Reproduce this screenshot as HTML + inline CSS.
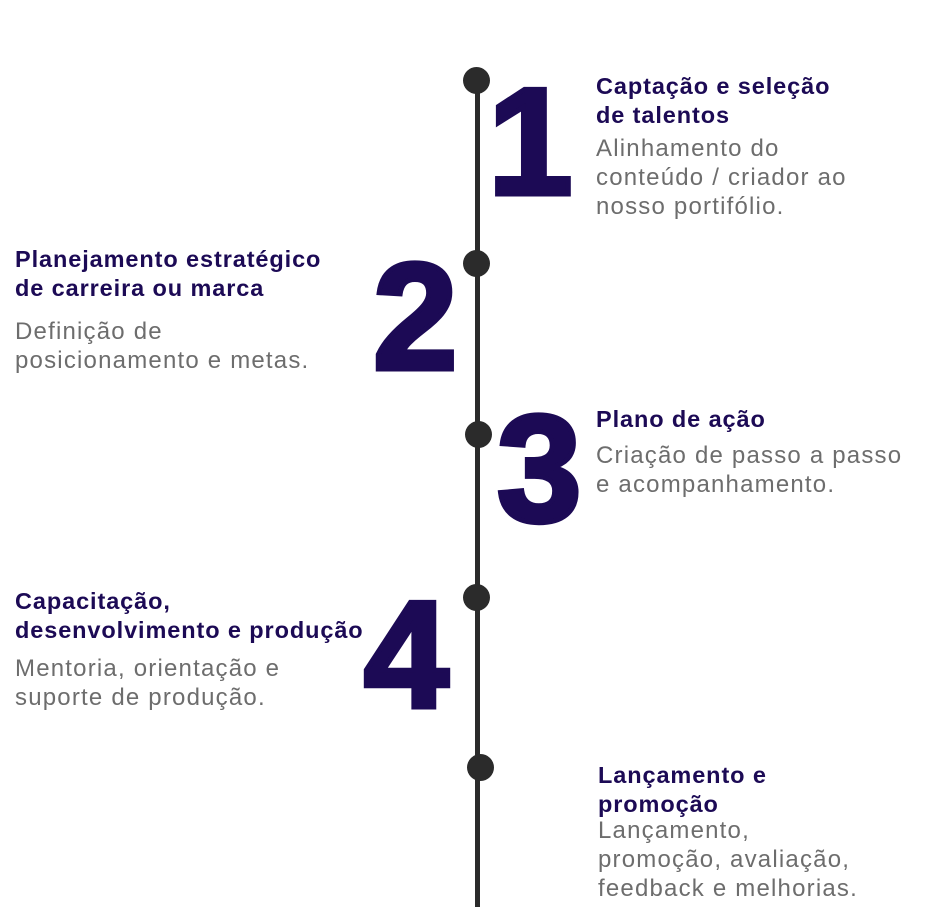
<!DOCTYPE html>
<html><head><meta charset="utf-8"><style>
body{margin:0;width:935px;height:917px;background:#fff;position:relative;overflow:hidden;font-family:"Liberation Sans",sans-serif}
.t{position:absolute;color:#1c0a55;font-weight:bold;font-size:23.5px;letter-spacing:0.9px;line-height:29px;white-space:nowrap}
.b{position:absolute;color:#6d6d6d;font-size:24px;letter-spacing:1.2px;line-height:29px;white-space:nowrap}
.n{position:absolute;color:#1c0a55;font-weight:bold;font-size:152px;line-height:1;-webkit-text-stroke:5px #1c0a55}
.d{position:absolute;width:27px;height:27px;border-radius:50%;background:#2b2b2b}
</style></head><body>
<div style="position:absolute;left:475px;top:80px;width:5px;height:827px;background:#2b2b2b"></div>
<div class="d" style="left:463px;top:67px"></div>
<div class="d" style="left:463px;top:250px"></div>
<div class="d" style="left:465px;top:421px"></div>
<div class="d" style="left:463px;top:584px"></div>
<div class="d" style="left:467px;top:754px"></div>

<div class="n" style="left:488px;top:66px">1</div>
<div class="n" style="left:373px;top:241px">2</div>
<div class="n" style="left:497px;top:393px">3</div>
<div class="n" style="left:364px;top:579px">4</div>

<div class="t" style="left:596px;top:72px">Captação e seleção<br>de talentos</div>
<div class="b" style="left:596px;top:134px">Alinhamento do<br>conteúdo / criador ao<br>nosso portifólio.</div>

<div class="t" style="left:15px;top:245px">Planejamento estratégico<br>de carreira ou marca</div>
<div class="b" style="left:15px;top:317px">Definição de<br>posicionamento e metas.</div>

<div class="t" style="left:596px;top:405px">Plano de ação</div>
<div class="b" style="left:596px;top:441px">Criação de passo a passo<br>e acompanhamento.</div>

<div class="t" style="left:15px;top:587px">Capacitação,<br>desenvolvimento e produção</div>
<div class="b" style="left:15px;top:654px">Mentoria, orientação e<br>suporte de produção.</div>

<div class="t" style="left:598px;top:761px">Lançamento e<br>promoção</div>
<div class="b" style="left:598px;top:816px">Lançamento,<br>promoção, avaliação,<br>feedback e melhorias.</div>
</body></html>
